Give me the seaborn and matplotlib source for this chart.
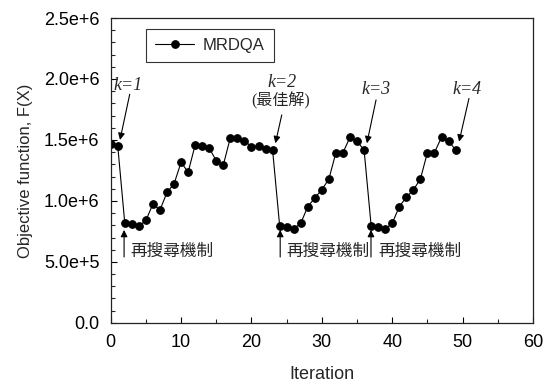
import numpy as np
import pandas as pd
import matplotlib
matplotlib.use("Agg")
import matplotlib.pyplot as plt
import seaborn as sns
from matplotlib.ticker import MultipleLocator, FuncFormatter

sns.set_theme(style="ticks")
plt.rcParams["font.family"] = ["Liberation Sans", "DejaVu Sans"]

# Objective value per iteration
iterations = list(range(50))
objective = [
    1.467e6, 1.450e6, 0.817e6, 0.810e6, 0.795e6, 0.840e6, 0.975e6, 0.926e6, 1.070e6, 1.140e6,
    1.317e6, 1.235e6, 1.459e6, 1.453e6, 1.432e6, 1.330e6, 1.295e6, 1.519e6, 1.519e6, 1.494e6,
    1.445e6, 1.451e6, 1.426e6, 1.418e6, 0.798e6, 0.787e6, 0.770e6, 0.817e6, 0.953e6, 1.025e6,
    1.092e6, 1.180e6, 1.396e6, 1.396e6, 1.522e6, 1.488e6, 1.418e6, 0.798e6, 0.784e6, 0.770e6,
    0.817e6, 0.953e6, 1.030e6, 1.090e6, 1.180e6, 1.396e6, 1.396e6, 1.522e6, 1.492e6, 1.418e6,
]

# k labels and where their text sits / where the arrow points
k_labels = ["k=1", "k=2", "k=3", "k=4"]
k_text_x = [2.46, 24.3, 37.7, 50.6]
k_text_y = [1.943e6, 1.975e6, 1.91e6, 1.91e6]
k_tail = [(2.7, 1.875e6), (24.3, 1.705e6), (37.7, 1.828e6), (50.9, 1.84e6)]
k_tip = [(1.32, 1.50e6), (23.4, 1.473e6), (36.4, 1.473e6), (49.5, 1.486e6)]

# re-search mechanism marks at the restart iterations
restart_x = [1.9, 24.08, 36.98]
restart_text_x = [2.84, 25.0, 38.07]
restart_text = "再搜尋機制"

df = pd.DataFrame({"Iteration": iterations, "F": objective})

fig = plt.figure(figsize=(5.47, 3.83), dpi=100)
ax = fig.add_axes([0.2024, 0.157, 0.772, 0.796])

sns.lineplot(data=df, x="Iteration", y="F", ax=ax, color="black", linewidth=0.8,
             marker="o", markersize=5.5, markeredgecolor="black", label="MRDQA")

ax.set_xlim(0, 60)
ax.set_ylim(0, 2.5e6)
ax.xaxis.set_major_locator(MultipleLocator(10))
ax.xaxis.set_minor_locator(MultipleLocator(5))
ax.yaxis.set_major_locator(MultipleLocator(5e5))
ax.yaxis.set_minor_locator(MultipleLocator(1e5))


def sci_fmt(v, pos):
    if v == 0:
        return "0.0"
    mant, exp = f"{v:.1e}".split("e")
    return f"{mant}e+{int(exp)}"


ax.yaxis.set_major_formatter(FuncFormatter(sci_fmt))
ax.tick_params(which="major", direction="in", length=4, width=0.8, labelsize=13,
               colors="black", pad=8)
ax.tick_params(which="minor", direction="in", length=3, width=0.8)
for s in ax.spines.values():
    s.set_linewidth(0.9)
    s.set_color("#222222")

ax.set_xlabel("Iteration", fontsize=13, labelpad=11)
ax.set_ylabel("Objective function, F(X)", fontsize=12, labelpad=8)

leg = ax.legend(loc="upper left", bbox_to_anchor=(0.084, 0.964), borderaxespad=0,
                fontsize=12, frameon=True, fancybox=False, edgecolor="black",
                handlelength=2.3, handletextpad=0.55, borderpad=0.55)
leg.get_frame().set_linewidth(0.8)

serif = ["Liberation Serif", "DejaVu Serif"]
cjk = ["Noto Sans CJK TC", "DejaVu Sans"]
serif_cjk = ["Liberation Serif", "Noto Sans CJK TC"]

arrow = dict(arrowstyle="-|>", color="black", lw=0.8, mutation_scale=10,
             shrinkA=0, shrinkB=0)

for lab, tx, ty, tail, tip in zip(k_labels, k_text_x, k_text_y, k_tail, k_tip):
    ax.annotate("", xy=tip, xytext=tail, arrowprops=arrow)
    ax.text(tx, ty, lab, ha="center", va="center", fontsize=13, style="italic",
            family=serif)
ax.text(24.1, 1.822e6, "(最佳解)", ha="center", va="center", fontsize=11.5,
        family=serif_cjk)

for ax_x, tx in zip(restart_x, restart_text_x):
    ax.annotate("", xy=(ax_x, 0.762e6), xytext=(ax_x, 0.54e6), arrowprops=arrow)
    ax.text(tx, 0.59e6, restart_text, ha="left", va="center", fontsize=12,
            family=cjk)

fig.savefig("out.png", dpi=100)
